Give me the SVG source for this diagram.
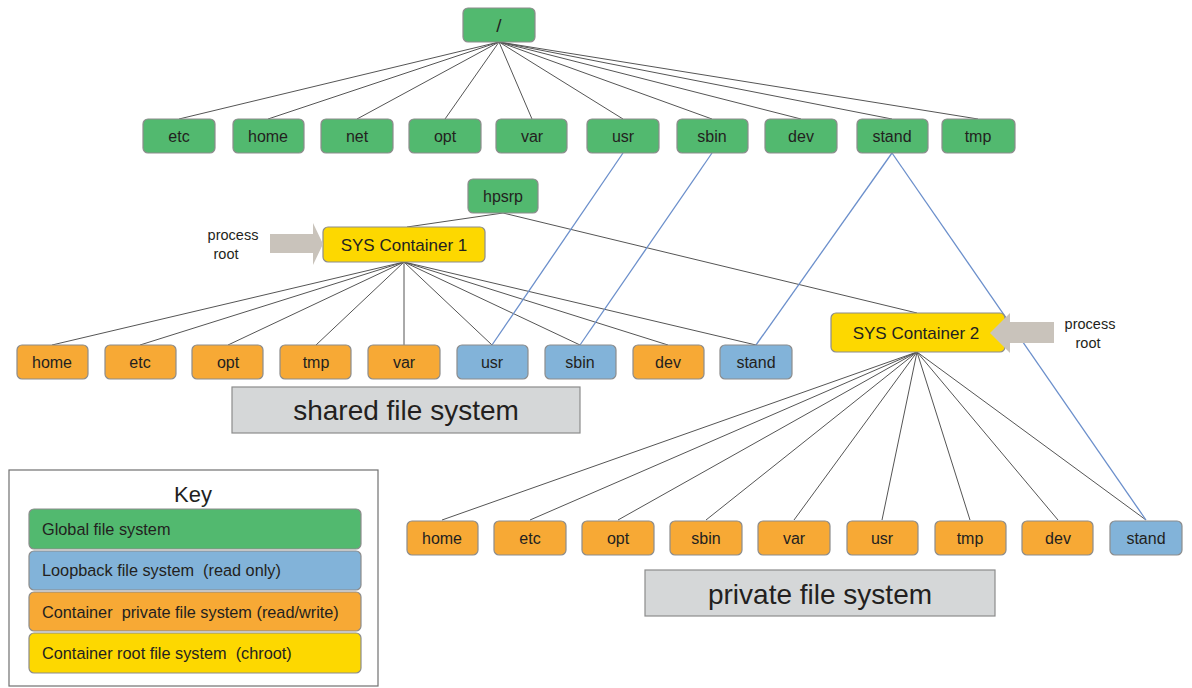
<svg xmlns="http://www.w3.org/2000/svg" width="1192" height="688" viewBox="0 0 1192 688">
<style>
.n rect{stroke:#8c8c8c;stroke-width:1.2}
.g rect{fill:#52b96f}
.b rect{fill:#82b3d9}
.o rect{fill:#f7a935}
.y rect{fill:#fdd800}
text{font-family:"Liberation Sans",Arial,sans-serif;fill:#231f20;text-anchor:middle}
.t{font-size:16px}
.big{font-size:17px}
.lbl{font-size:14.5px}
.ln line{stroke:#555;stroke-width:1}
.bl line{stroke:#6b8fcb;stroke-width:1.3}
.cap rect{fill:#d5d7d8;stroke:#8c8c8c;stroke-width:1.2}
.key text{text-anchor:start;font-size:16.3px;white-space:pre}
.arr{fill:#c9c3bb}
</style>
<rect width="1192" height="688" fill="#ffffff"/>
<g id="connectors">
<g class="ln">
<line x1="499" y1="42" x2="179" y2="119"/>
<line x1="499" y1="42" x2="268" y2="119"/>
<line x1="499" y1="42" x2="357" y2="119"/>
<line x1="499" y1="42" x2="445" y2="119"/>
<line x1="499" y1="42" x2="532" y2="119"/>
<line x1="499" y1="42" x2="623" y2="119"/>
<line x1="499" y1="42" x2="712" y2="119"/>
<line x1="499" y1="42" x2="801" y2="119"/>
<line x1="499" y1="42" x2="892" y2="119"/>
<line x1="499" y1="42" x2="978" y2="119"/>
<line x1="503" y1="213" x2="407" y2="227"/>
<line x1="503" y1="213" x2="917" y2="313"/>
<line x1="404" y1="262" x2="52" y2="345"/>
<line x1="404" y1="262" x2="140" y2="345"/>
<line x1="404" y1="262" x2="228" y2="345"/>
<line x1="404" y1="262" x2="316" y2="345"/>
<line x1="404" y1="262" x2="404" y2="345"/>
<line x1="404" y1="262" x2="492" y2="345"/>
<line x1="404" y1="262" x2="580" y2="345"/>
<line x1="404" y1="262" x2="668" y2="345"/>
<line x1="404" y1="262" x2="756" y2="345"/>
<line x1="917" y1="352" x2="442" y2="520"/>
<line x1="917" y1="352" x2="530" y2="520"/>
<line x1="917" y1="352" x2="618" y2="520"/>
<line x1="917" y1="352" x2="706" y2="520"/>
<line x1="917" y1="352" x2="794" y2="520"/>
<line x1="917" y1="352" x2="882" y2="520"/>
<line x1="917" y1="352" x2="970" y2="520"/>
<line x1="917" y1="352" x2="1058" y2="520"/>
<line x1="917" y1="352" x2="1146" y2="520"/>
</g>
<g class="bl">
<line x1="623" y1="153" x2="492" y2="345"/>
<line x1="712" y1="153" x2="580" y2="345"/>
<line x1="892" y1="153" x2="756" y2="345"/>
<line x1="892" y1="153" x2="1146" y2="520"/>
</g>
</g>
<g id="root" class="n g"><rect x="463" y="8" width="72" height="34" rx="5"/><text x="499" y="32" style="font-size:19px">/</text></g>
<g id="g-etc" class="n g"><rect x="143" y="119" width="72" height="34" rx="5"/><text class="t" x="179" y="142">etc</text></g>
<g id="g-home" class="n g"><rect x="233" y="119" width="71" height="34" rx="5"/><text class="t" x="268" y="142">home</text></g>
<g id="g-net" class="n g"><rect x="321" y="119" width="72" height="34" rx="5"/><text class="t" x="357" y="142">net</text></g>
<g id="g-opt" class="n g"><rect x="409" y="119" width="72" height="34" rx="5"/><text class="t" x="445" y="142">opt</text></g>
<g id="g-var" class="n g"><rect x="496" y="119" width="71" height="34" rx="5"/><text class="t" x="532" y="142">var</text></g>
<g id="g-usr" class="n g"><rect x="587" y="119" width="72" height="34" rx="5"/><text class="t" x="623" y="142">usr</text></g>
<g id="g-sbin" class="n g"><rect x="677" y="119" width="71" height="34" rx="5"/><text class="t" x="712" y="142">sbin</text></g>
<g id="g-dev" class="n g"><rect x="765" y="119" width="72" height="34" rx="5"/><text class="t" x="801" y="142">dev</text></g>
<g id="g-stand" class="n g"><rect x="857" y="119" width="71" height="34" rx="5"/><text class="t" x="892" y="142">stand</text></g>
<g id="g-tmp" class="n g"><rect x="942" y="119" width="73" height="34" rx="5"/><text class="t" x="978" y="142">tmp</text></g>
<g id="hpsrp" class="n g"><rect x="468" y="179" width="70" height="34" rx="5"/><text class="t" x="503" y="202">hpsrp</text></g>
<g id="sys1" class="n y"><rect x="323" y="227" width="162" height="35" rx="5"/><text class="big" x="404" y="251">SYS Container 1</text></g>
<g id="arrow1"><polygon class="arr" points="270,234 313,234 313,223 323,244 313,265 313,253 270,253"/><text class="lbl" x="233" y="240">process</text><text class="lbl" x="226" y="259">root</text></g>
<g id="sys2" class="n y"><rect x="831" y="313" width="174" height="39" rx="5"/><text class="big" x="916" y="339">SYS Container 2</text></g>
<g id="arrow2"><polygon class="arr" points="1054,322 1010,322 1010,313 990,333 1010,353 1010,343 1054,343"/><text class="lbl" x="1090" y="329">process</text><text class="lbl" x="1088" y="348">root</text></g>
<g id="s-home" class="n o"><rect x="17" y="345" width="71" height="34" rx="5"/><text class="t" x="52" y="368">home</text></g>
<g id="s-etc" class="n o"><rect x="105" y="345" width="71" height="34" rx="5"/><text class="t" x="140" y="368">etc</text></g>
<g id="s-opt" class="n o"><rect x="192" y="345" width="71" height="34" rx="5"/><text class="t" x="228" y="368">opt</text></g>
<g id="s-tmp" class="n o"><rect x="280" y="345" width="71" height="34" rx="5"/><text class="t" x="316" y="368">tmp</text></g>
<g id="s-var" class="n o"><rect x="368" y="345" width="72" height="34" rx="5"/><text class="t" x="404" y="368">var</text></g>
<g id="s-usr" class="n b"><rect x="457" y="345" width="71" height="34" rx="5"/><text class="t" x="492" y="368">usr</text></g>
<g id="s-sbin" class="n b"><rect x="545" y="345" width="71" height="34" rx="5"/><text class="t" x="580" y="368">sbin</text></g>
<g id="s-dev" class="n o"><rect x="633" y="345" width="71" height="34" rx="5"/><text class="t" x="668" y="368">dev</text></g>
<g id="s-stand" class="n b"><rect x="720" y="345" width="72" height="34" rx="5"/><text class="t" x="756" y="368">stand</text></g>
<g id="shared" class="cap"><rect x="232" y="387" width="348" height="46"/><text x="406" y="420" style="font-size:28px">shared file system</text></g>
<g id="p-home" class="n o"><rect x="407" y="521" width="71" height="34" rx="5"/><text class="t" x="442" y="544">home</text></g>
<g id="p-etc" class="n o"><rect x="494" y="521" width="72" height="34" rx="5"/><text class="t" x="530" y="544">etc</text></g>
<g id="p-opt" class="n o"><rect x="582" y="521" width="72" height="34" rx="5"/><text class="t" x="618" y="544">opt</text></g>
<g id="p-sbin" class="n o"><rect x="670" y="521" width="72" height="34" rx="5"/><text class="t" x="706" y="544">sbin</text></g>
<g id="p-var" class="n o"><rect x="758" y="521" width="72" height="34" rx="5"/><text class="t" x="794" y="544">var</text></g>
<g id="p-usr" class="n o"><rect x="847" y="521" width="71" height="34" rx="5"/><text class="t" x="882" y="544">usr</text></g>
<g id="p-tmp" class="n o"><rect x="935" y="521" width="71" height="34" rx="5"/><text class="t" x="970" y="544">tmp</text></g>
<g id="p-dev" class="n o"><rect x="1022" y="521" width="71" height="34" rx="5"/><text class="t" x="1058" y="544">dev</text></g>
<g id="p-stand" class="n b"><rect x="1110" y="521" width="72" height="34" rx="5"/><text class="t" x="1146" y="544">stand</text></g>
<g id="private" class="cap"><rect x="645" y="570" width="350" height="46"/><text x="820" y="604" style="font-size:28px">private file system</text></g>
<g id="key" class="key">
<rect x="9" y="470" width="369" height="216" fill="#ffffff" stroke="#707070" stroke-width="1.2"/>
<text x="193" y="502" style="text-anchor:middle;font-size:22px">Key</text>
<g class="n g"><rect x="29" y="509" width="332" height="40" rx="5"/><text x="42" y="535">Global file system</text></g>
<g class="n b"><rect x="29" y="551" width="332" height="39" rx="5"/><text x="42" y="576">Loopback file system  (read only)</text></g>
<g class="n o"><rect x="29" y="592" width="332" height="39" rx="5"/><text x="42" y="618">Container  private file system (read/write)</text></g>
<g class="n y"><rect x="29" y="633" width="332" height="40" rx="5"/><text x="42" y="659">Container root file system  (chroot)</text></g>
</g>
</svg>
